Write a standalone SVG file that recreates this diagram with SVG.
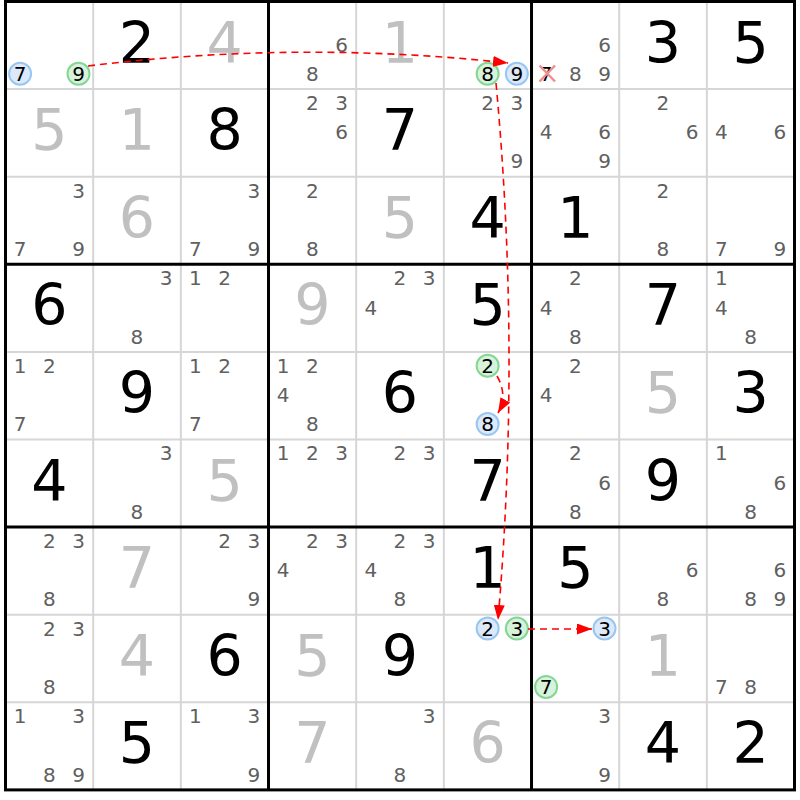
<svg xmlns="http://www.w3.org/2000/svg" width="800" height="800" viewBox="0 0 800 800">
<defs>
<style>
.thin{stroke:#d6d6d6;stroke-width:2;fill:none}
.thick{stroke:#000;stroke-width:3;fill:none}
.b{font-family:"DejaVu Sans",sans-serif;font-size:57px;text-anchor:middle;fill:#000}
.g{font-family:"DejaVu Sans",sans-serif;font-size:57px;text-anchor:middle;fill:#c0c0c0}
.c{font-family:"DejaVu Sans",sans-serif;font-size:20px;text-anchor:middle;fill:#606060;transform:translateY(0.7px)}
.k{fill:#000}
.cb{fill:#dbe9fb;stroke:#98c6f1;stroke-width:2}
.cg{fill:#d7f3dc;stroke:#83d693;stroke-width:2}
.x{stroke:#f18c8f;stroke-width:2.5}
.link{fill:none;stroke:#ff0000;stroke-width:1.6;stroke-dasharray:7 5}
</style>
<marker id="arr" markerUnits="userSpaceOnUse" markerWidth="15" markerHeight="11" refX="15" refY="5.5" orient="auto">
<path d="M0,0 L15,5.5 L0,11 z" fill="#ff0000"/>
</marker>
</defs>
<rect x="0" y="0" width="800" height="800" fill="#fff"/>
<g id="grid">
<path class="thin" d="M93.17,1.5V789.9M180.84,1.5V789.9M356.18,1.5V789.9M443.85,1.5V789.9M619.19,1.5V789.9M706.86,1.5V789.9M5.5,89.1H794.5M5.5,176.7H794.5M5.5,351.9H794.5M5.5,439.5H794.5M5.5,614.7H794.5M5.5,702.3H794.5"/>
<path class="thick" d="M268.51,1.5V789.9M531.52,1.5V789.9M5.5,264.3H794.5M5.5,527.1H794.5"/>
<rect class="thick" x="5.5" y="1.5" width="789" height="788.4"/>
</g>
<g id="cells">
<!-- row 1 -->
<g id="r1c1" transform="translate(5.5,1.5)"><circle class="cb" cx="14.6" cy="72.2" r="11"/><text class="c k" x="14.6" y="78.7">7</text><circle class="cg" cx="73" cy="72.2" r="11"/><text class="c k" x="73" y="78.7">9</text></g>
<g id="r1c2" transform="translate(93.17,1.5)"><text class="b" x="43.8" y="61">2</text></g>
<g id="r1c3" transform="translate(180.84,1.5)"><text class="g" x="43.8" y="61">4</text></g>
<g id="r1c4" transform="translate(268.51,1.5)"><text class="c" x="73" y="49.5">6</text><text class="c" x="43.8" y="78.7">8</text></g>
<g id="r1c5" transform="translate(356.18,1.5)"><text class="g" x="43.8" y="61">1</text></g>
<g id="r1c6" transform="translate(443.85,1.5)"><circle class="cg" cx="43.8" cy="72.2" r="11"/><text class="c k" x="43.8" y="78.7">8</text><circle class="cb" cx="73" cy="72.2" r="11"/><text class="c k" x="73" y="78.7">9</text></g>
<g id="r1c7" transform="translate(531.52,1.5)"><text class="c" x="73" y="49.5">6</text><text class="c k" x="14.6" y="78.7">7</text><path class="x" d="M8,64L23.5,80M23.5,64L8,80"/><text class="c" x="43.8" y="78.7">8</text><text class="c" x="73" y="78.7">9</text></g>
<g id="r1c8" transform="translate(619.19,1.5)"><text class="b" x="43.8" y="61">3</text></g>
<g id="r1c9" transform="translate(706.86,1.5)"><text class="b" x="43.8" y="61">5</text></g>
<!-- row 2 -->
<g id="r2c1" transform="translate(5.5,89.1)"><text class="g" x="43.8" y="61">5</text></g>
<g id="r2c2" transform="translate(93.17,89.1)"><text class="g" x="43.8" y="61">1</text></g>
<g id="r2c3" transform="translate(180.84,89.1)"><text class="b" x="43.8" y="61">8</text></g>
<g id="r2c4" transform="translate(268.51,89.1)"><text class="c" x="43.8" y="20.3">2</text><text class="c" x="73" y="20.3">3</text><text class="c" x="73" y="49.5">6</text></g>
<g id="r2c5" transform="translate(356.18,89.1)"><text class="b" x="43.8" y="61">7</text></g>
<g id="r2c6" transform="translate(443.85,89.1)"><text class="c" x="43.8" y="20.3">2</text><text class="c" x="73" y="20.3">3</text><text class="c" x="73" y="78.7">9</text></g>
<g id="r2c7" transform="translate(531.52,89.1)"><text class="c" x="14.6" y="49.5">4</text><text class="c" x="73" y="49.5">6</text><text class="c" x="73" y="78.7">9</text></g>
<g id="r2c8" transform="translate(619.19,89.1)"><text class="c" x="43.8" y="20.3">2</text><text class="c" x="73" y="49.5">6</text></g>
<g id="r2c9" transform="translate(706.86,89.1)"><text class="c" x="14.6" y="49.5">4</text><text class="c" x="73" y="49.5">6</text></g>
<!-- row 3 -->
<g id="r3c1" transform="translate(5.5,176.7)"><text class="c" x="73" y="20.3">3</text><text class="c" x="14.6" y="78.7">7</text><text class="c" x="73" y="78.7">9</text></g>
<g id="r3c2" transform="translate(93.17,176.7)"><text class="g" x="43.8" y="61">6</text></g>
<g id="r3c3" transform="translate(180.84,176.7)"><text class="c" x="73" y="20.3">3</text><text class="c" x="14.6" y="78.7">7</text><text class="c" x="73" y="78.7">9</text></g>
<g id="r3c4" transform="translate(268.51,176.7)"><text class="c" x="43.8" y="20.3">2</text><text class="c" x="43.8" y="78.7">8</text></g>
<g id="r3c5" transform="translate(356.18,176.7)"><text class="g" x="43.8" y="61">5</text></g>
<g id="r3c6" transform="translate(443.85,176.7)"><text class="b" x="43.8" y="61">4</text></g>
<g id="r3c7" transform="translate(531.52,176.7)"><text class="b" x="43.8" y="61">1</text></g>
<g id="r3c8" transform="translate(619.19,176.7)"><text class="c" x="43.8" y="20.3">2</text><text class="c" x="43.8" y="78.7">8</text></g>
<g id="r3c9" transform="translate(706.86,176.7)"><text class="c" x="14.6" y="78.7">7</text><text class="c" x="73" y="78.7">9</text></g>
<!-- row 4 -->
<g id="r4c1" transform="translate(5.5,264.3)"><text class="b" x="43.8" y="61">6</text></g>
<g id="r4c2" transform="translate(93.17,264.3)"><text class="c" x="73" y="20.3">3</text><text class="c" x="43.8" y="78.7">8</text></g>
<g id="r4c3" transform="translate(180.84,264.3)"><text class="c" x="14.6" y="20.3">1</text><text class="c" x="43.8" y="20.3">2</text></g>
<g id="r4c4" transform="translate(268.51,264.3)"><text class="g" x="43.8" y="61">9</text></g>
<g id="r4c5" transform="translate(356.18,264.3)"><text class="c" x="43.8" y="20.3">2</text><text class="c" x="73" y="20.3">3</text><text class="c" x="14.6" y="49.5">4</text></g>
<g id="r4c6" transform="translate(443.85,264.3)"><text class="b" x="43.8" y="61">5</text></g>
<g id="r4c7" transform="translate(531.52,264.3)"><text class="c" x="43.8" y="20.3">2</text><text class="c" x="14.6" y="49.5">4</text><text class="c" x="43.8" y="78.7">8</text></g>
<g id="r4c8" transform="translate(619.19,264.3)"><text class="b" x="43.8" y="61">7</text></g>
<g id="r4c9" transform="translate(706.86,264.3)"><text class="c" x="14.6" y="20.3">1</text><text class="c" x="14.6" y="49.5">4</text><text class="c" x="43.8" y="78.7">8</text></g>
<!-- row 5 -->
<g id="r5c1" transform="translate(5.5,351.9)"><text class="c" x="14.6" y="20.3">1</text><text class="c" x="43.8" y="20.3">2</text><text class="c" x="14.6" y="78.7">7</text></g>
<g id="r5c2" transform="translate(93.17,351.9)"><text class="b" x="43.8" y="61">9</text></g>
<g id="r5c3" transform="translate(180.84,351.9)"><text class="c" x="14.6" y="20.3">1</text><text class="c" x="43.8" y="20.3">2</text><text class="c" x="14.6" y="78.7">7</text></g>
<g id="r5c4" transform="translate(268.51,351.9)"><text class="c" x="14.6" y="20.3">1</text><text class="c" x="43.8" y="20.3">2</text><text class="c" x="14.6" y="49.5">4</text><text class="c" x="43.8" y="78.7">8</text></g>
<g id="r5c5" transform="translate(356.18,351.9)"><text class="b" x="43.8" y="61">6</text></g>
<g id="r5c6" transform="translate(443.85,351.9)"><circle class="cg" cx="43.8" cy="13.8" r="11"/><text class="c k" x="43.8" y="20.3">2</text><circle class="cb" cx="43.8" cy="72.2" r="11"/><text class="c k" x="43.8" y="78.7">8</text></g>
<g id="r5c7" transform="translate(531.52,351.9)"><text class="c" x="43.8" y="20.3">2</text><text class="c" x="14.6" y="49.5">4</text></g>
<g id="r5c8" transform="translate(619.19,351.9)"><text class="g" x="43.8" y="61">5</text></g>
<g id="r5c9" transform="translate(706.86,351.9)"><text class="b" x="43.8" y="61">3</text></g>
<!-- row 6 -->
<g id="r6c1" transform="translate(5.5,439.5)"><text class="b" x="43.8" y="61">4</text></g>
<g id="r6c2" transform="translate(93.17,439.5)"><text class="c" x="73" y="20.3">3</text><text class="c" x="43.8" y="78.7">8</text></g>
<g id="r6c3" transform="translate(180.84,439.5)"><text class="g" x="43.8" y="61">5</text></g>
<g id="r6c4" transform="translate(268.51,439.5)"><text class="c" x="14.6" y="20.3">1</text><text class="c" x="43.8" y="20.3">2</text><text class="c" x="73" y="20.3">3</text></g>
<g id="r6c5" transform="translate(356.18,439.5)"><text class="c" x="43.8" y="20.3">2</text><text class="c" x="73" y="20.3">3</text></g>
<g id="r6c6" transform="translate(443.85,439.5)"><text class="b" x="43.8" y="61">7</text></g>
<g id="r6c7" transform="translate(531.52,439.5)"><text class="c" x="43.8" y="20.3">2</text><text class="c" x="73" y="49.5">6</text><text class="c" x="43.8" y="78.7">8</text></g>
<g id="r6c8" transform="translate(619.19,439.5)"><text class="b" x="43.8" y="61">9</text></g>
<g id="r6c9" transform="translate(706.86,439.5)"><text class="c" x="14.6" y="20.3">1</text><text class="c" x="73" y="49.5">6</text><text class="c" x="43.8" y="78.7">8</text></g>
<!-- row 7 -->
<g id="r7c1" transform="translate(5.5,527.1)"><text class="c" x="43.8" y="20.3">2</text><text class="c" x="73" y="20.3">3</text><text class="c" x="43.8" y="78.7">8</text></g>
<g id="r7c2" transform="translate(93.17,527.1)"><text class="g" x="43.8" y="61">7</text></g>
<g id="r7c3" transform="translate(180.84,527.1)"><text class="c" x="43.8" y="20.3">2</text><text class="c" x="73" y="20.3">3</text><text class="c" x="73" y="78.7">9</text></g>
<g id="r7c4" transform="translate(268.51,527.1)"><text class="c" x="43.8" y="20.3">2</text><text class="c" x="73" y="20.3">3</text><text class="c" x="14.6" y="49.5">4</text></g>
<g id="r7c5" transform="translate(356.18,527.1)"><text class="c" x="43.8" y="20.3">2</text><text class="c" x="73" y="20.3">3</text><text class="c" x="14.6" y="49.5">4</text><text class="c" x="43.8" y="78.7">8</text></g>
<g id="r7c6" transform="translate(443.85,527.1)"><text class="b" x="43.8" y="61">1</text></g>
<g id="r7c7" transform="translate(531.52,527.1)"><text class="b" x="43.8" y="61">5</text></g>
<g id="r7c8" transform="translate(619.19,527.1)"><text class="c" x="73" y="49.5">6</text><text class="c" x="43.8" y="78.7">8</text></g>
<g id="r7c9" transform="translate(706.86,527.1)"><text class="c" x="73" y="49.5">6</text><text class="c" x="43.8" y="78.7">8</text><text class="c" x="73" y="78.7">9</text></g>
<!-- row 8 -->
<g id="r8c1" transform="translate(5.5,614.7)"><text class="c" x="43.8" y="20.3">2</text><text class="c" x="73" y="20.3">3</text><text class="c" x="43.8" y="78.7">8</text></g>
<g id="r8c2" transform="translate(93.17,614.7)"><text class="g" x="43.8" y="61">4</text></g>
<g id="r8c3" transform="translate(180.84,614.7)"><text class="b" x="43.8" y="61">6</text></g>
<g id="r8c4" transform="translate(268.51,614.7)"><text class="g" x="43.8" y="61">5</text></g>
<g id="r8c5" transform="translate(356.18,614.7)"><text class="b" x="43.8" y="61">9</text></g>
<g id="r8c6" transform="translate(443.85,614.7)"><circle class="cb" cx="43.8" cy="13.8" r="11"/><text class="c k" x="43.8" y="20.3">2</text><circle class="cg" cx="73" cy="13.8" r="11"/><text class="c k" x="73" y="20.3">3</text></g>
<g id="r8c7" transform="translate(531.52,614.7)"><circle class="cb" cx="73" cy="13.8" r="11"/><text class="c k" x="73" y="20.3">3</text><circle class="cg" cx="14.6" cy="72.2" r="11"/><text class="c k" x="14.6" y="78.7">7</text></g>
<g id="r8c8" transform="translate(619.19,614.7)"><text class="g" x="43.8" y="61">1</text></g>
<g id="r8c9" transform="translate(706.86,614.7)"><text class="c" x="14.6" y="78.7">7</text><text class="c" x="43.8" y="78.7">8</text></g>
<!-- row 9 -->
<g id="r9c1" transform="translate(5.5,702.3)"><text class="c" x="14.6" y="20.3">1</text><text class="c" x="73" y="20.3">3</text><text class="c" x="43.8" y="78.7">8</text><text class="c" x="73" y="78.7">9</text></g>
<g id="r9c2" transform="translate(93.17,702.3)"><text class="b" x="43.8" y="61">5</text></g>
<g id="r9c3" transform="translate(180.84,702.3)"><text class="c" x="14.6" y="20.3">1</text><text class="c" x="73" y="20.3">3</text><text class="c" x="73" y="78.7">9</text></g>
<g id="r9c4" transform="translate(268.51,702.3)"><text class="g" x="43.8" y="61">7</text></g>
<g id="r9c5" transform="translate(356.18,702.3)"><text class="c" x="73" y="20.3">3</text><text class="c" x="43.8" y="78.7">8</text></g>
<g id="r9c6" transform="translate(443.85,702.3)"><text class="g" x="43.8" y="61">6</text></g>
<g id="r9c7" transform="translate(531.52,702.3)"><text class="c" x="73" y="20.3">3</text><text class="c" x="73" y="78.7">9</text></g>
<g id="r9c8" transform="translate(619.19,702.3)"><text class="b" x="43.8" y="61">4</text></g>
<g id="r9c9" transform="translate(706.86,702.3)"><text class="b" x="43.8" y="61">2</text></g>
</g>
<g id="connectors">
<path class="link" marker-end="url(#arr)" d="M88,66 Q298,40 508,63"/>
<path class="link" marker-end="url(#arr)" d="M496,83 Q521,352 498,620"/>
<path class="link" marker-end="url(#arr)" d="M497,376 Q508,395 498,413"/>
<path class="link" marker-end="url(#arr)" d="M528,629 L592,629"/>
</g>
</svg>
